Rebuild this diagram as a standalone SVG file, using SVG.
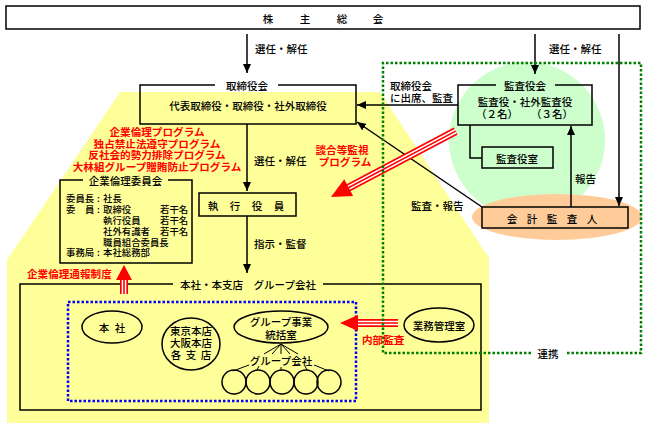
<svg xmlns="http://www.w3.org/2000/svg" width="648" height="428" viewBox="0 0 648 428">
<defs>
<style>
text{font-family:"Noto Sans CJK JP","Noto Sans",sans-serif;font-size:10.5px;font-weight:500;fill:#000;dominant-baseline:central}
.m{text-anchor:middle}
.r{fill:#f00;font-weight:bold;font-size:10.6px}
.sm{font-size:9.4px}
.bx{fill:none;stroke:#000;stroke-width:1.5}
.ln{fill:none;stroke:#000;stroke-width:1.5}
.ar{fill:none;stroke:#000;stroke-width:1.5;marker-end:url(#ah)}
.gd{fill:none;stroke:#008000;stroke-width:2.5;stroke-dasharray:2.5 2}
.bd{fill:none;stroke:#0000ff;stroke-width:2.5;stroke-dasharray:2.5 2}
.t1{stroke:#f00;stroke-width:8;fill:none}
.t2{stroke:#fff;stroke-width:4.6;fill:none}
.t3{stroke:#f00;stroke-width:1.6;fill:none}
.hd{fill:#f00}
</style>
<marker id="ah" markerUnits="userSpaceOnUse" markerWidth="9" markerHeight="8" refX="9" refY="4" orient="auto">
<path d="M0,0 L9,4 L0,8 z" fill="#000"/>
</marker>
</defs>
<rect width="648" height="428" fill="#fff"/>
<!-- backgrounds -->
<polygon points="120,92 380,92 489,258 489,423 7,423 7,260" fill="#ffff99"/>
<circle cx="527" cy="140" r="78" fill="#ccffcc"/>
<ellipse cx="557" cy="217" rx="85" ry="23" fill="#ffcc99"/>

<g id="shareholders">
<rect class="bx" x="6" y="6" width="634" height="23"/>
<text x="268 305 342 378" y="18" class="m">株主総会</text>
</g>

<g id="board">
<path class="bx" d="M215,85 H140 V124 H356 V85 H278"/>
<text x="247" y="85" class="m">取締役会</text>
<text x="248" y="105" class="m">代表取締役・取締役・社外取締役</text>
</g>

<g id="audit-board">
<path class="bx" d="M496,85 H458 V125 H592 V85 H555"/>
<text x="525" y="85" class="m">監査役会</text>
<text x="525" y="101" class="m">監査役・社外監査役</text>
<text x="497" y="113" class="m">（２名）</text>
<text x="552" y="113" class="m">（３名）</text>
</g>

<g id="audit-office">
<rect class="bx" x="482" y="147" width="71" height="21"/>
<text x="517" y="158" class="m">監査役室</text>
</g>

<g id="accounting-auditor">
<rect class="bx" x="482" y="207" width="146" height="21"/>
<text x="512 532 552 572 592" y="218" class="m">会計監査人</text>
</g>

<g id="executive">
<rect class="bx" x="199" y="193" width="97" height="23"/>
<text x="213 235 257 279" y="205" class="m">執行役員</text>
</g>

<g id="ethics-committee">
<path class="bx" d="M83,180 H60 V263 H192 V180 H168"/>
<text x="125.5" y="180" class="m">企業倫理委員会</text>
<text class="sm" x="66" y="198">委員長</text><text class="sm m" x="98.5" y="198">:</text><text class="sm" x="103" y="198">社長</text>
<text class="sm" x="66 85" y="209">委員</text><text class="sm m" x="98.5" y="209">:</text><text class="sm" x="103" y="209">取締役</text><text class="sm" x="160" y="209">若干名</text>
<text class="sm" x="103" y="220">執行役員</text><text class="sm" x="160" y="220">若干名</text>
<text class="sm" x="103" y="231">社外有識者</text><text class="sm" x="160" y="231">若干名</text>
<text class="sm" x="103" y="242">職員組合委員長</text>
<text class="sm" x="66" y="252">事務局</text><text class="sm m" x="98.5" y="252">:</text><text class="sm" x="103" y="252">本社総務部</text>
</g>

<g id="group">
<path class="bx" d="M173,284 H20 V410 H481 V284 H323"/>
<text x="248" y="284" class="m">本社・本支店　グループ会社</text>
<rect class="bd" x="68" y="302" width="288" height="99"/>
</g>

<g id="honsha">
<ellipse class="bx" cx="112" cy="327" rx="30" ry="16"/>
<text x="104 120" y="327" class="m">本社</text>
</g>

<g id="branches">
<ellipse class="bx" cx="191" cy="344" rx="29" ry="26"/>
<text x="191" y="330" class="m">東京本店</text>
<text x="191" y="342" class="m">大阪本店</text>
<text x="176 191 206" y="354" class="m">各支店</text>
</g>

<g id="group-hq">
<ellipse class="bx" cx="281" cy="327" rx="47" ry="16"/>
<text x="281" y="321" class="m">グループ事業</text>
<text x="281" y="334" class="m">統括室</text>
</g>

<g id="group-companies">
<path class="ln" style="stroke-width:1" d="M281,344 L264,354 M281,344 L272,354 M281,344 L281,354 M281,344 L290,354 M281,344 L298,354 M249,365 L233,371 M259,366 L257,370 M281,367 L281,371 M305,366 L307,370 M314,365 L329,371"/>
<text x="281" y="360" class="m">グループ会社</text>
<circle class="bx" cx="234" cy="382" r="12"/>
<circle class="bx" cx="258" cy="382" r="12"/>
<circle class="bx" cx="282" cy="382" r="12"/>
<circle class="bx" cx="306" cy="382" r="12"/>
<circle class="bx" cx="329" cy="382" r="12"/>
</g>

<g id="business-mgmt">
<ellipse class="bx" cx="439" cy="325" rx="35" ry="17"/>
<text x="439" y="325" class="m">業務管理室</text>
</g>

<g id="connectors">
<path class="ar" d="M247,34 V73"/>
<text x="255" y="48">選任・解任</text>
<path class="ar" d="M535,34 V74"/>
<text x="549" y="48">選任・解任</text>
<path class="ar" d="M619,34 V206"/>
<path class="ar" d="M247,124 V191"/>
<text x="254" y="160">選任・解任</text>
<path class="ar" d="M247,216 V273"/>
<text x="254" y="243">指示・監督</text>
<path class="ln" d="M470,125 V158 H482"/>
<path class="ar" d="M571,207 V126"/>
<text x="575" y="178">報告</text>
<path class="ar" d="M458,105 H357"/>
<text x="390" y="85">取締役会</text>
<text x="390" y="97">に出席、監査</text>
<path class="ar" d="M482,207 L357,122"/>
<text x="411" y="205">監査・報告</text>

<!-- red triple arrows -->
<g transform="translate(331,197) rotate(152.15)">
<path class="t1" d="M-141,0 H-17"/><path class="t2" d="M-141,0 H-17"/><path class="t3" d="M-141,0 H-17"/>
<polygon class="hd" points="0,0 -20,-9.5 -20,9.5"/>
</g>
<g transform="translate(124,265) rotate(-90)">
<path class="t1" d="M-29,0 H-12"/><path class="t2" d="M-29,0 H-12"/><path class="t3" d="M-29,0 H-12"/>
<polygon class="hd" points="0,0 -15,-8 -15,8"/>
</g>
<g transform="translate(340,323) rotate(180)">
<path class="t1" d="M-58,0 H-15"/><path class="t2" d="M-58,0 H-15"/><path class="t3" d="M-58,0 H-15"/>
<polygon class="hd" points="0,0 -18,-8 -18,8"/>
</g>

<path class="gd" d="M531,353 H383 V63 H641 V353 H565"/>
<text x="548" y="353" class="m">連携</text>
</g>

<g id="red-labels">
<text class="r m" x="157" y="131.5">企業倫理プログラム</text>
<text class="r m" x="157" y="143.2">独占禁止法遵守プログラム</text>
<text class="r m" x="157" y="154.9">反社会的勢力排除プログラム</text>
<text class="r m" x="157" y="166.6">大林組グループ贈賄防止プログラム</text>
<text class="r m" x="342" y="149">談合等監視</text>
<text class="r m" x="345" y="161">プログラム</text>
<text class="r" x="27" y="273">企業倫理通報制度</text>
<text class="r" x="362" y="339">内部監査</text>
</g>
</svg>
